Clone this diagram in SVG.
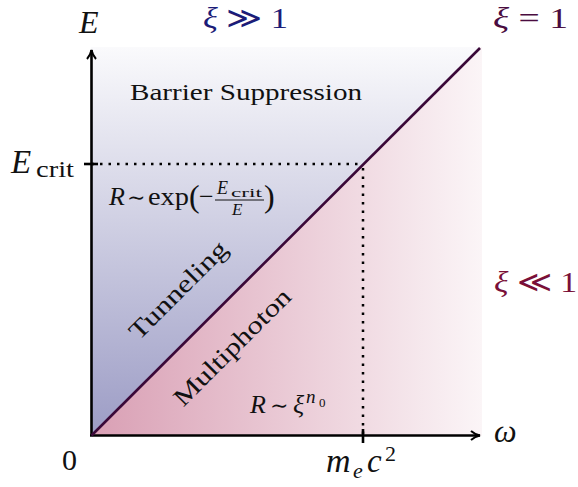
<svg xmlns="http://www.w3.org/2000/svg" width="578" height="487" viewBox="0 0 578 487">
<defs>
<linearGradient id="gBlue" x1="0" y1="47" x2="0" y2="436" gradientUnits="userSpaceOnUse">
<stop offset="0" stop-color="#fafafc"/>
<stop offset="1" stop-color="#9c9cc5"/>
</linearGradient>
<linearGradient id="gPink" x1="91" y1="0" x2="482" y2="0" gradientUnits="userSpaceOnUse">
<stop offset="0" stop-color="#d99fb4"/>
<stop offset="1" stop-color="#fbf5f7"/>
</linearGradient>
<marker id="arr" viewBox="0 0 12 12" refX="10" refY="6" markerWidth="12" markerHeight="12" markerUnits="userSpaceOnUse" orient="auto">
<path d="M1,1.5 Q5,5 10,6 Q5,7 1,10.5" fill="none" stroke="#000" stroke-width="2"/>
</marker>
<style>
text{font-family:"Liberation Serif","DejaVu Serif",serif;fill:#111}
.it{font-style:italic}
.sym{font-family:"DejaVu Serif",serif}
.lbl{font-size:25px}
.dot{stroke:#000;stroke-width:2.5;stroke-dasharray:2.5 6;fill:none}
</style>
</defs>
<g id="regions">
<polygon points="91,47 480,47 91,436" fill="url(#gBlue)"/>
<polygon points="91,436 480,47 482,47 482,436" fill="url(#gPink)"/>
</g>
<g id="connectors">
<line x1="91.5" y1="164" x2="363" y2="164" class="dot"/>
<line x1="363" y1="168" x2="363" y2="436" class="dot"/>
<line x1="91.5" y1="436" x2="91.5" y2="50" stroke="#000" stroke-width="2.6" marker-end="url(#arr)"/>
<line x1="90" y1="435.5" x2="480" y2="435.5" stroke="#000" stroke-width="2.6" marker-end="url(#arr)"/>
<line x1="84" y1="164" x2="98" y2="164" stroke="#000" stroke-width="2.6"/>
<line x1="363" y1="429" x2="363" y2="443" stroke="#000" stroke-width="2.6"/>
<line x1="91.5" y1="435.5" x2="480" y2="48" stroke="#3a0838" stroke-width="2.6"/>
</g>
<g id="axis-labels">
<text x="79" y="33" class="it" font-size="32">E</text>
<text x="11" y="173" class="it" font-size="33">E</text>
<text x="36" y="177" font-size="23" textLength="38" lengthAdjust="spacingAndGlyphs">crit</text>
<text x="62" y="470" font-size="30">0</text>
<text x="494" y="442" class="it" font-size="32">ω</text>
<text x="326" y="472" class="it" font-size="34">m</text>
<text x="353" y="478" class="it" font-size="22">e</text>
<text x="367" y="472" class="it" font-size="33">c</text>
<text x="385" y="461" font-size="22">2</text>
</g>
<g id="xi-labels">
<text x="203" y="28" font-size="30" style="fill:#1c1c78" textLength="85" lengthAdjust="spacingAndGlyphs"><tspan class="it">ξ</tspan> ≫ 1</text>
<text x="493" y="28" font-size="30" style="fill:#4a0c40" textLength="75" lengthAdjust="spacingAndGlyphs"><tspan class="it">ξ</tspan> = 1</text>
<text x="494" y="292" font-size="30" style="fill:#7a1038" textLength="83" lengthAdjust="spacingAndGlyphs"><tspan class="it">ξ</tspan> ≪ 1</text>
</g>
<g id="region-labels">
<text x="130" y="100" font-size="24" textLength="232" lengthAdjust="spacingAndGlyphs">Barrier Suppression</text>
<text x="109" y="205" font-size="26" class="it">R</text>
<text x="127" y="205" font-size="22" class="sym">∼</text>
<text x="148" y="205" font-size="26" textLength="41" lengthAdjust="spacingAndGlyphs">exp</text>
<text x="189" y="207" font-size="32">(</text>
<text x="199" y="205" font-size="26">−</text>
<text x="217" y="194" font-size="18" class="it">E</text>
<text x="231" y="197" font-size="12" textLength="31" lengthAdjust="spacingAndGlyphs">crit</text>
<line x1="215" y1="200" x2="264" y2="200" stroke="#111" stroke-width="1"/>
<text x="232" y="215" font-size="17" class="it">E</text>
<text x="264" y="207" font-size="32">)</text>
<text x="0" y="0" class="lbl" text-anchor="middle" textLength="128" lengthAdjust="spacingAndGlyphs" transform="translate(184,296) rotate(-45)">Tunneling</text>
<text x="0" y="0" class="lbl" text-anchor="middle" textLength="155" lengthAdjust="spacingAndGlyphs" transform="translate(238,353) rotate(-45)">Multiphoton</text>
<text x="250" y="413" font-size="26" class="it">R</text>
<text x="270" y="413" font-size="22" class="sym">∼</text>
<text x="293" y="413" font-size="26" class="it">ξ</text>
<text x="306" y="403" font-size="19" class="it">n</text>
<text x="319" y="407" font-size="13">0</text>
</g>
</svg>
